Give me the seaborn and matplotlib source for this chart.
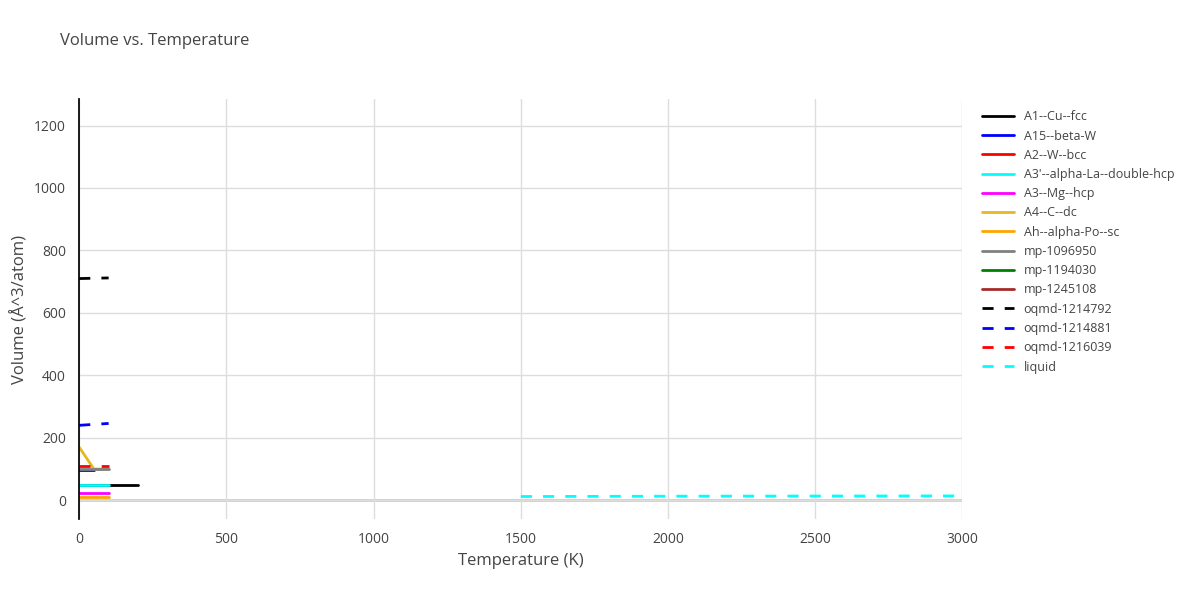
import matplotlib
matplotlib.use("Agg")
import matplotlib.pyplot as plt
import seaborn as sns
import pandas as pd

sns.set_theme(style="whitegrid")
plt.rcParams['font.family'] = ['Open Sans', 'DejaVu Sans']

names = ["A1--Cu--fcc","A15--beta-W","A2--W--bcc","A3'--alpha-La--double-hcp","A3--Mg--hcp",
         "A4--C--dc","Ah--alpha-Po--sc","mp-1096950","mp-1194030","mp-1245108",
         "oqmd-1214792","oqmd-1214881","oqmd-1216039","liquid"]
colors = ["black","blue","red","cyan","magenta","#e6b820","orange","gray","green","brown",
          "black","blue","red","cyan"]
dashed = [False]*10 + [True]*4
temps = [[0,100,200],[0,50],[0,100],[0,50,100],[0,50,100],[0,50,100],[0,50,100],[0,50,100],[0,50],[0,50],
         [0,50,100],[0,50,100],[0,50,100],[1500,2000,2500,3000]]
vols = [[49,49,49],[97,97],[48,48],[50,50,50],[23,23,23],[170,100,100],[10,10,10],[100,100,100],[48,48],[48,48],
        [710,711,712],[240,243,246],[111,111,111],[12,13,13.5,14]]

rows = []
for n, t, v in zip(names, temps, vols):
    for ti, vi in zip(t, v):
        rows.append(dict(name=n, T=ti, V=vi))
df = pd.DataFrame(rows)

zorders = {"mp-1194030": 1.5, "mp-1245108": 1.6, "A2--W--bcc": 1.7}
fig, ax = plt.subplots(figsize=(12, 6), dpi=100)
fig.subplots_adjust(left=0.066, right=0.802, top=0.835, bottom=0.135)
for n, c, d in zip(names, colors, dashed):
    sns.lineplot(data=df[df.name == n], x="T", y="V", color=c, label=n, ax=ax,
                 linestyle="--" if d else "-", dashes=False, linewidth=2,
                 zorder=zorders.get(n, 2.5))
for line in ax.get_lines():
    if line.get_linestyle() == "--":
        line.set_dashes([4, 4])
ax.set_xlim(0, 3000)
ax.set_ylim(-60, 1285)
ax.set_xticks([0,500,1000,1500,2000,2500,3000])
ax.set_yticks([0,200,400,600,800,1000,1200])
ax.axhline(0, color="#cccccc", lw=2, zorder=0)
for s in ["top","right","bottom"]:
    ax.spines[s].set_visible(False)
ax.spines["left"].set_color("black")
ax.grid(color="#dddddd")
ax.tick_params(colors="#444444", labelsize=10)
ax.set_xlabel("Temperature (K)", color="#444444", fontsize=12)
ax.set_ylabel("Volume (Å^3/atom)", color="#444444", fontsize=12)
fig.text(0.05, 0.925, "Volume vs. Temperature", fontsize=12, color="#444444")
leg = ax.legend(loc="upper left", bbox_to_anchor=(1.01, 1.0), frameon=False, fontsize=9,
                labelcolor="#444444", handlelength=2.5)
for h in leg.get_lines():
    if h.get_linestyle() == "--":
        h.set_dashes([4, 4])
fig.savefig("out.png")
